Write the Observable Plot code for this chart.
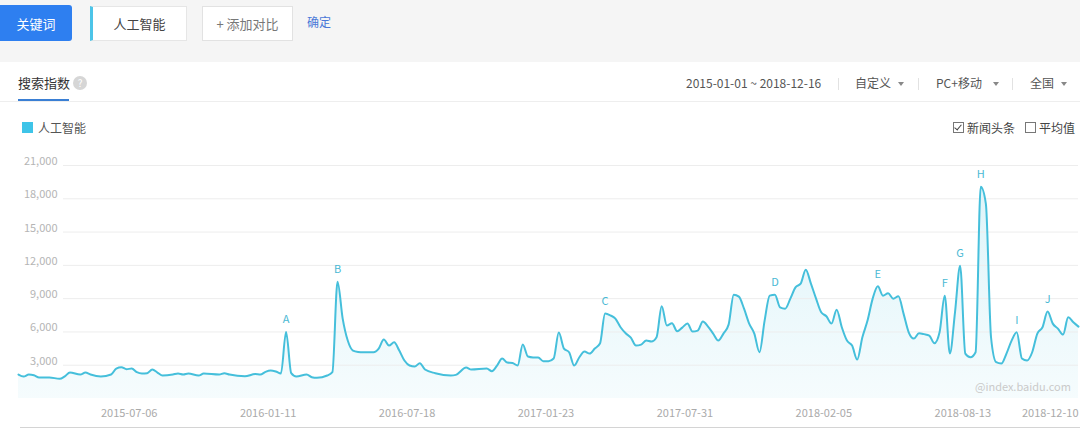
<!DOCTYPE html>
<html>
<head>
<meta charset="utf-8">
<script src="https://cdn.jsdelivr.net/npm/d3@7"></script>
<script src="https://cdn.jsdelivr.net/npm/@observablehq/plot@0.6"></script>
<style>
  body { margin: 0; width: 1080px; height: 429px; overflow: hidden; background: #fff; position: relative;
         font-family: "Noto Sans CJK SC", "Noto Sans", sans-serif; }
  .abs { position: absolute; white-space: nowrap; }
  #topbar { left: 0; top: 0; width: 1080px; height: 62px; background: #f5f5f5; }
  .box { box-sizing: border-box; display: flex; align-items: center; justify-content: center; font-size: 13px; }
  .sep { width: 1px; height: 12px; background: #e2e2e2; top: 78px; }
  .caret { width: 0; height: 0; border-left: 3px solid transparent; border-right: 3px solid transparent; border-top: 4px solid #888; top: 82px; }
  .hdr { top: 74px; font-size: 12px; color: #555; line-height: 18px; }
  .chk { box-sizing: border-box; width: 11px; height: 11px; border: 1px solid #777; top: 122px; background: #fff; }
  #chart { left: 0; top: 140px; }
</style>
</head>
<body>
<div id="topbar" class="abs"></div>
<div class="abs box" style="left:0;top:5px;width:72px;height:36px;background:#2e7ff0;color:#fff;border-radius:0 3px 3px 0;">关键词</div>
<div class="abs box" style="left:90px;top:6px;width:97px;height:35px;background:#fff;border:1px solid #e6e6e6;border-left:3px solid #4cc4e8;color:#444;">人工智能</div>
<div class="abs box" style="left:202px;top:6px;width:91px;height:35px;background:#fff;border:1px solid #e2e2e2;color:#777;">+ 添加对比</div>
<div class="abs" style="left:307px;top:13px;font-size:12px;color:#4a78d8;">确定</div>

<div class="abs" style="left:18px;top:73px;font-size:13px;color:#333;line-height:20px;">搜索指数</div>
<div class="abs" style="left:73px;top:76px;width:14px;height:14px;border-radius:7px;background:#d6d6d6;color:#fff;font-size:10px;line-height:14px;text-align:center;">?</div>
<div class="abs" style="left:0;top:101px;width:1080px;height:1px;background:#eeeeee;"></div>
<div class="abs" style="left:18px;top:99px;width:51px;height:2px;background:#3a7fd4;"></div>

<div class="abs hdr" style="left:686px;">2015-01-01 ~ 2018-12-16</div>
<div class="abs sep" style="left:838px;"></div>
<div class="abs hdr" style="left:855px;">自定义</div>
<div class="abs caret" style="left:898px;"></div>
<div class="abs sep" style="left:918px;"></div>
<div class="abs hdr" style="left:936px;">PC+移动</div>
<div class="abs caret" style="left:993px;"></div>
<div class="abs sep" style="left:1012px;"></div>
<div class="abs hdr" style="left:1030px;">全国</div>
<div class="abs caret" style="left:1061px;"></div>

<div class="abs" style="left:22px;top:122px;width:11px;height:11px;background:#3ec4e8;"></div>
<div class="abs" style="left:38px;top:119px;font-size:12px;color:#555;line-height:17px;">人工智能</div>
<div class="abs chk" style="left:953px;"></div>
<div class="abs" style="left:956px;top:123px;width:3px;height:6px;border-right:1.5px solid #444;border-bottom:1.5px solid #444;transform:rotate(40deg);"></div>
<div class="abs" style="left:967px;top:119px;font-size:12px;color:#444;line-height:17px;">新闻头条</div>
<div class="abs chk" style="left:1025px;"></div>
<div class="abs" style="left:1039px;top:119px;font-size:12px;color:#444;line-height:17px;">平均值</div>

<div id="chart" class="abs"></div>
<div class="abs" style="left:975px;top:378px;font-size:11px;color:#cacaca;">@index.baidu.com</div>
<div class="abs" style="left:20px;top:427px;width:1060px;height:1px;background:#d4d4d4;"></div>

<script>
// Weekly Baidu search index for "人工智能" (week number counted from the week of 2014-12-29)
const weekNo = [
  0, 1, 2, 3, 4, 6, 8, 9, 10, 12, 13, 14, 16, 18, 19, 20, 21, 22, 23, 24, 25, 26, 27, 28, 30, 31, 32, 33, 35, 36,
  39, 40, 41, 44, 46, 47, 48, 49, 50, 51, 52, 53, 54, 56, 57, 58, 60, 61, 62, 63, 64, 65, 66, 67, 69, 70, 71, 72, 73, 74,
  75, 76, 77, 78, 79, 81, 84, 85, 87, 88, 91, 92, 93, 94, 95, 96, 97, 98, 99, 100, 101, 102, 103, 104, 105, 106, 107, 108, 109, 110,
  111, 112, 113, 114, 115, 116, 117, 118, 119, 120, 121, 122, 123, 124, 125, 126, 127, 128, 129, 130, 131, 132, 133, 134, 135, 136, 137, 138, 139, 140,
  141, 142, 143, 144, 145, 146, 147, 148, 149, 150, 151, 152, 153, 154, 155, 156, 157, 158, 159, 160, 161, 162, 163, 164, 165, 166, 167, 168, 169, 170,
  171, 172, 173, 174, 175, 176, 177, 178, 179, 180, 181, 182, 183, 184, 185, 186, 187, 188, 189, 190, 191, 192, 193, 194, 195, 196, 197, 198, 199, 200,
  201, 202, 203, 204, 205, 206
];
const searchIndex = [
  2160, 1980, 2160, 2100, 1890, 1900, 1770, 2000, 2340, 2160, 2340, 2160, 1980, 2160, 2700, 2820, 2640, 2700, 2370, 2250, 2280, 2610, 2340, 2070, 2160, 2250, 2160, 2250, 2070, 2250,
  2160, 2280, 2160, 2000, 2200, 2160, 2400, 2520, 2430, 2250, 6000, 2280, 1980, 2160, 1920, 1860, 2070, 2370, 10530, 7200, 5200, 4320, 4200, 4170, 4170, 4500, 5310, 4770, 5070, 4320,
  3420, 2970, 2880, 3180, 2610, 2280, 2070, 2130, 2790, 2610, 2700, 2460, 2970, 3600, 3240, 3200, 2970, 4860, 3780, 3700, 3690, 3360, 3360, 3600, 5940, 4500, 4170, 2970, 3720, 4230,
  4050, 4500, 4950, 7650, 7500, 7200, 6420, 5880, 5490, 4770, 4860, 5220, 5130, 5520, 8310, 6570, 6780, 6060, 6390, 6750, 6030, 6120, 6930, 6480, 5850, 5220, 5850, 6660, 9360, 9180,
  8100, 6750, 5850, 4170, 7020, 9270, 9360, 8220, 8100, 9000, 10020, 10350, 11610, 10350, 9000, 7770, 7410, 6750, 8010, 6420, 5220, 4770, 3510, 5520, 7020, 9000, 10110, 9270, 9480, 9000,
  9210, 7650, 5970, 5400, 5880, 5800, 5670, 4980, 5970, 9270, 4050, 7770, 11970, 4050, 3720, 4170, 19080, 17550, 5520, 3270, 3150, 4050, 5220, 5970, 3600, 3420, 4170, 5850, 6420, 7830,
  6750, 6300, 5760, 7320, 6870, 6480
];

// Annotated peaks (news events) and the weeks they mark
const peakLetters = ["A", "B", "C", "D", "E", "F", "G", "H", "I", "J"];
const peakWeeks = [52, 62, 114, 147, 167, 180, 183, 187, 194, 200];

// Axis ticks
const yTicks = [3000, 6000, 9000, 12000, 15000, 18000, 21000];
const xTickDates = ["2015-07-06", "2016-01-11", "2016-07-18", "2017-01-23", "2017-07-31", "2018-02-05", "2018-08-13", "2018-12-10"];

const firstWeek = Date.UTC(2014, 11, 29);
const toDate = (w) => new Date(firstWeek + w * 7 * 86400000);
const series = weekNo.map((w, i) => ({date: toDate(w), value: searchIndex[i]}));
const byWeek = new Map(weekNo.map((w, i) => [w, searchIndex[i]]));
const peaks = peakLetters.map((k, i) => ({label: k, date: toDate(peakWeeks[i]), value: byWeek.get(peakWeeks[i])}));
const parseDay = d3.utcParse("%Y-%m-%d");

// Soft cyan gradient under the curve
const areaGradient = () => {
  const defs = document.createElementNS("http://www.w3.org/2000/svg", "defs");
  defs.innerHTML = `<linearGradient id="areaFill" x1="0" y1="0" x2="0" y2="1">
      <stop offset="0" stop-color="#3fbfdc" stop-opacity="0.17"/>
      <stop offset="1" stop-color="#3fbfdc" stop-opacity="0.05"/>
    </linearGradient>`;
  return defs;
};

const chart = Plot.plot({
  width: 1080,
  height: 289,
  marginTop: 25,
  marginBottom: 31,
  marginLeft: 18,
  marginRight: 2,
  style: {fontFamily: '"Noto Sans CJK SC", "Noto Sans", sans-serif', fontSize: "11px", background: "transparent", overflow: "visible"},
  x: {type: "utc", domain: [toDate(0), toDate(206)]},
  y: {domain: [0, 21000]},
  marks: [
    areaGradient,
    Plot.areaY(series, {x: "date", y: "value", fill: "url(#areaFill)", curve: "monotone-x"}),
    Plot.ruleY(yTicks, {stroke: "#ededed", insetLeft: 45}),
    Plot.lineY(series, {x: "date", y: "value", stroke: "#45bfdb", strokeWidth: 2, curve: "monotone-x"}),
    Plot.axisY(yTicks, {anchor: "left", label: null, tickSize: 0, tickPadding: 0, dx: 39, dy: -4, tickFormat: d3.format(","), fill: "#b5b5b5"}),
    Plot.axisX(xTickDates.map(parseDay), {label: null, tickSize: 0, tickPadding: 11, textAnchor: "end", tickFormat: d3.utcFormat("%Y-%m-%d"), fill: "#aaaaaa"}),
    Plot.text(peaks, {x: "date", y: "value", text: "label", dy: -12, fill: "#4ab9d4", fontSize: 11})
  ]
});
document.getElementById("chart").appendChild(chart);
</script>
</body>
</html>
